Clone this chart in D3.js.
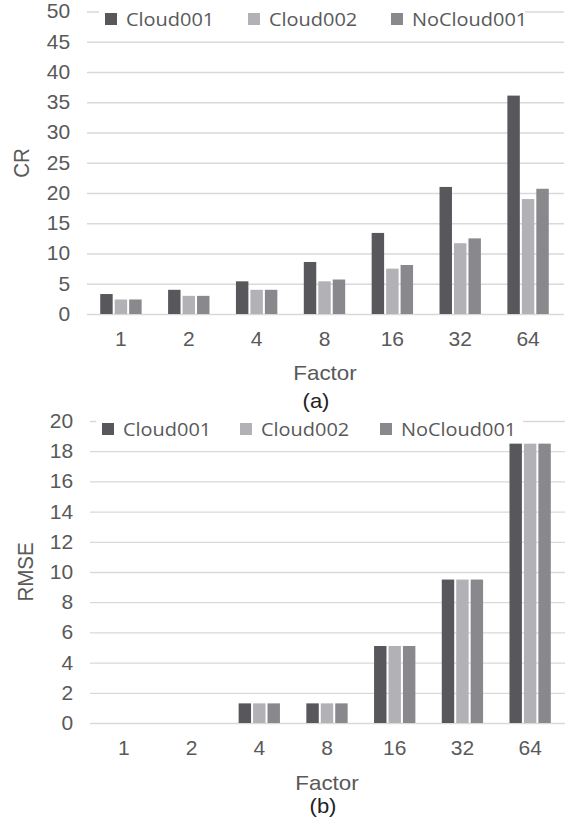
<!DOCTYPE html>
<html>
<head>
<meta charset="utf-8">
<style>
body { margin: 0; background: #fff; }
text { font-family: "Liberation Sans", Arial, sans-serif; fill: #595959; }
.grid line { stroke: #d9d9d9; stroke-width: 1.3px; }
.grid path { display: none; }
.xaxis path, .xaxis line { display: none; }
.legend text { font-family: "Open Sans", sans-serif; font-size: 19px; }
</style>
</head>
<body>
<script src="https://cdn.jsdelivr.net/npm/d3@7"></script>
<script>

var factors = ["1", "2", "4", "8", "16", "32", "64"];
var series = ["Cloud001", "Cloud002", "NoCloud001"];
var colors = ["#58585c", "#b2b1b5", "#89888c"];

// (a) CR
var crCloud001   = [3.3, 4.0, 5.4, 8.6, 13.4, 21.0, 36.1];
var crCloud002   = [2.4, 3.0, 4.0, 5.4, 7.5, 11.7, 19.0];
var crNoCloud001 = [2.4, 3.0, 4.0, 5.7, 8.1, 12.5, 20.7];

// (b) RMSE
var rmseCloud001   = [0, 0, 1.3, 1.3, 5.1, 9.5, 18.5];
var rmseCloud002   = [0, 0, 1.3, 1.3, 5.1, 9.5, 18.5];
var rmseNoCloud001 = [0, 0, 1.3, 1.3, 5.1, 9.5, 18.5];

var yTicksA = d3.range(0, 51, 5);
var yTicksB = d3.range(0, 21, 2);

var width = 565, height = 823;
var sx = 1.05; // tick text is a little wider than normal

var svg = d3.select("body").append("svg")
    .attr("width", width)
    .attr("height", height);

function drawChart(cfg) {
  var g = svg.append("g");

  var x0 = d3.scaleBand().domain(factors).range([cfg.left, cfg.right]);
  var groupW = x0.bandwidth() * 0.61;
  var x1 = d3.scaleBand().domain(series).range([0, groupW]).paddingInner(0.14);
  var y = d3.scaleLinear().domain(cfg.yDomain).range([cfg.bottom, cfg.top]);

  // gridlines + y tick labels
  var yAxis = g.append("g")
      .attr("class", "grid")
      .attr("transform", "translate(" + cfg.left + ",0)")
      .call(d3.axisLeft(y).tickValues(cfg.ticks)
          .tickSize(-(cfg.gridRight - cfg.left))
          .tickPadding(16));
  yAxis.selectAll("text")
      .style("font-size", "20px")
      .attr("transform", "scale(" + sx + ",1)");

  // bars
  var rows = factors.map(function(f, i) {
    return { factor: f, values: cfg.data.map(function(s) { return s[i]; }) };
  });

  g.append("g").selectAll("g")
      .data(rows)
      .enter().append("g")
      .attr("transform", function(d) {
        return "translate(" + (x0(d.factor) + (x0.bandwidth() - groupW) / 2) + ",0)";
      })
      .selectAll("rect")
      .data(function(d) { return d.values; })
      .enter().append("rect")
      .attr("x", function(d, i) { return x1(series[i]); })
      .attr("width", x1.bandwidth())
      .attr("y", function(d) { return y(d); })
      .attr("height", function(d) { return y(0) - y(d); })
      .style("fill", function(d, i) { return colors[i]; });

  // x axis labels
  var xAxis = g.append("g")
      .attr("class", "xaxis")
      .attr("transform", "translate(0," + cfg.bottom + ")")
      .call(d3.axisBottom(x0).tickSize(0).tickPadding(18));
  xAxis.selectAll("text")
      .style("font-size", "20px")
      .attr("transform", "scale(" + sx + ",1)");

  // axis titles
  g.append("text")
      .attr("transform", "translate(" + cfg.yTitleX + "," + cfg.yTitleY + ") rotate(-90) scale(1.08,1.12)")
      .attr("text-anchor", "middle")
      .attr("dy", "0.35em")
      .style("font-size", "19px")
      .text(cfg.yTitle);

  g.append("text")
      .attr("transform", "translate(" + cfg.xTitleX + "," + cfg.xTitleY + ") scale(1.12,1)")
      .attr("text-anchor", "middle")
      .style("font-size", "20px")
      .text("Factor");

  g.append("text")
      .attr("transform", "translate(" + cfg.capX + "," + cfg.capY + ") scale(1.1,1)")
      .attr("text-anchor", "middle")
      .style("font-size", "20px")
      .style("fill", "#222")
      .text(cfg.caption);

  // legend
  var leg = g.append("g").attr("class", "legend");
  leg.append("rect")
      .attr("x", cfg.legBox[0]).attr("y", cfg.legY - 14)
      .attr("width", cfg.legBox[1] - cfg.legBox[0]).attr("height", 28)
      .style("fill", "#fff");
  var item = leg.selectAll(".item")
      .data(series)
      .enter().append("g")
      .attr("class", "item")
      .attr("transform", function(d, i) { return "translate(" + cfg.legX[i] + "," + cfg.legY + ")"; });
  item.append("rect")
      .attr("x", 0).attr("y", -6)
      .attr("width", 12).attr("height", 12)
      .style("fill", function(d, i) { return colors[i]; });
  item.append("text")
      .attr("x", 20)
      .attr("y", 7)
      .attr("transform", "scale(1.05,1)")
      .text(function(d) { return d; });
}

drawChart({
  data: [crCloud001, crCloud002, crNoCloud001],
  yDomain: [0, 50], ticks: yTicksA,
  left: 87, right: 562, gridRight: 564,
  top: 11.5, bottom: 314,
  yTitle: "CR", yTitleX: 22, yTitleY: 163,
  xTitleX: 325, xTitleY: 380,
  caption: "(a)", capX: 316, capY: 408,
  legY: 19, legX: [105, 248, 391], legBox: [99, 525]
});

drawChart({
  data: [rmseCloud001, rmseCloud002, rmseNoCloud001],
  yDomain: [0, 20], ticks: yTicksB,
  left: 90, right: 564, gridRight: 565,
  top: 421, bottom: 723,
  yTitle: "RMSE", yTitleX: 26, yTitleY: 572,
  xTitleX: 327, xTitleY: 790,
  caption: "(b)", capX: 323, capY: 813,
  legY: 429, legX: [102, 240, 380], legBox: [96, 523]
});

</script>
</body>
</html>
